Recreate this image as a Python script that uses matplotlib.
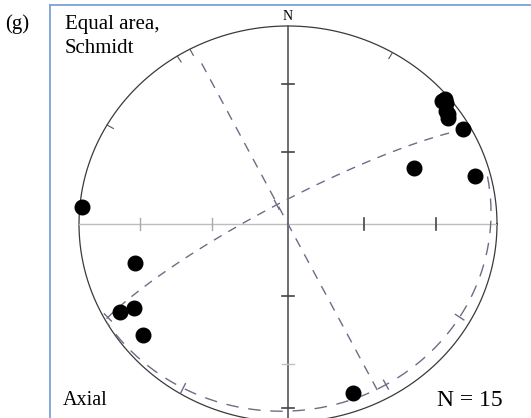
import numpy as np
import matplotlib
matplotlib.use("Agg")
import matplotlib.pyplot as plt

# pole directions (trend, plunge in degrees), lower hemisphere
pole_trend = [275, 255, 241, 240, 231, 160, 65, 75, 60, 50, 50, 51, 53, 54, 55]
pole_plunge = [1, 25, 9, 16, 12, 10, 34, 8, 4, 4, 2, 3, 6, 6, 7]

# planes (strike, dip) and the part of each great circle that is drawn
plane_strike = [333, 241, 61]
plane_dip = [90, 81, 7]
plane_span = [(9.9, 173.4), (1.0, 174.7), (15.0, 179.0)]
plane_dash = [(7, 6), (6.5, 5.5), (9, 7)]

# short marks placed along the planes (plane index, angle along plane)
plane_marks = [(1, 2), (1, 90), (2, 59), (2, 89), (2, 150)]

# marks on the primitive circle (azimuth)
rim_marks = [300, 328, 332, 30]

W, H = 531, 418
cx, cy, rx, ry = 288, 224, 209, 198


def project(trend, plunge):
    t = np.radians(trend)
    r = np.sqrt(2) * np.sin(np.radians(90 - np.asarray(plunge)) / 2)
    return r * np.sin(t), r * np.cos(t)


def plane_points(strike, dip, t):
    s, d = np.radians(strike), np.radians(dip)
    t = np.radians(t)
    sv = np.array([np.sin(s), np.cos(s), 0.0])
    dv = np.array([np.sin(s + np.pi / 2) * np.cos(d), np.cos(s + np.pi / 2) * np.cos(d), np.sin(d)])
    v = np.outer(np.cos(t), sv) + np.outer(np.sin(t), dv)
    trend = np.degrees(np.arctan2(v[:, 0], v[:, 1]))
    plunge = np.degrees(np.arcsin(np.clip(v[:, 2], -1, 1)))
    return project(trend, plunge)


fig = plt.figure(figsize=(W / 100, H / 100), dpi=100)
ax = fig.add_axes([(cx - rx) / W, (H - cy - ry) / H, 2 * rx / W, 2 * ry / H])
ax.set_xlim(-1, 1)
ax.set_ylim(-1, 1)
ax.axis("off")

# primitive circle
a = np.linspace(0, 2 * np.pi, 400)
ax.plot(np.cos(a), np.sin(a), color="#3a3a3a", lw=0.9, clip_on=False)
for az in rim_marks:
    t = np.radians(az)
    ax.plot([np.sin(t), 0.965 * np.sin(t)], [np.cos(t), 0.965 * np.cos(t)],
            color="#555555", lw=0.8, clip_on=False)

# cross axes with equal-area ticks
ax.plot([-1, 1], [0, 0], color="#bdbdbd", lw=1.0)
ax.plot([0, 0], [-1.05, 1], color="#555555", lw=1.2, clip_on=False)
tx = 6 / rx
ty = 6 / ry
for v in [0.366, 0.707]:
    ax.plot([-v, -v], [-ty, ty], color="#aaaaaa", lw=1.0)
    ax.plot([v, v], [-ty, ty], color="#444444", lw=1.2)
    ax.plot([-tx, tx], [v, v], color="#444444", lw=1.2)
ax.plot([-tx, tx], [-0.366, -0.366], color="#444444", lw=1.2)
ax.plot([-tx, tx], [-0.707, -0.707], color="#c0c0c0", lw=1.0)
ax.plot([-tx, tx], [-0.93, -0.93], color="#444444", lw=1.2)

# great circles
for s, d, (t0, t1), dash in zip(plane_strike, plane_dip, plane_span, plane_dash):
    x, y = plane_points(s, d, np.linspace(t0, t1, 300))
    ax.plot(x, y, color="#6e6c85", lw=1.0, linestyle=(0, dash), clip_on=False)

# short marks across the great circles
fig.canvas.draw()
for i, t in plane_marks:
    x, y = plane_points(plane_strike[i], plane_dip[i], np.array([t - 0.5, t, t + 0.5]))
    p = ax.transData.transform(np.column_stack([x, y]))
    d = p[2] - p[0]
    n = np.array([-d[1], d[0]]) / np.hypot(*d) * 5
    q = ax.transData.inverted().transform([p[1] - n, p[1] + n])
    ax.plot(q[:, 0], q[:, 1], color="#6e6c85", lw=1.0, clip_on=False)

# poles
px, py = project(pole_trend, pole_plunge)
ax.plot(px, py, "o", color="black", markersize=10.5, clip_on=False)

# frame and labels
fig.add_artist(plt.Line2D([50 / W, 1], [1 - 5 / H, 1 - 5 / H], color="#7ba2d3", lw=1.3))
fig.add_artist(plt.Line2D([50 / W, 50 / W], [0, 1 - 5 / H], color="#7ba2d3", lw=1.3))

serif = "Liberation Serif"
fig.text(5 / W, 1 - 29 / H, "(g)", fontsize=15, family=serif, va="baseline")
fig.text(65 / W, 1 - 29 / H, "Equal area,", fontsize=15, family=serif, va="baseline")
fig.text(65 / W, 1 - 53 / H, "Schmidt", fontsize=15, family=serif, va="baseline")
fig.text(cx / W, 1 - 20 / H, "N", fontsize=10, family=serif, ha="center", va="baseline")
fig.text(63 / W, 1 - 405 / H, "Axial", fontsize=14.5, family=serif, va="baseline")
fig.text(437 / W, 1 - 406 / H, "N = 15", fontsize=17, family=serif, va="baseline")

fig.savefig("out.png", dpi=100)
